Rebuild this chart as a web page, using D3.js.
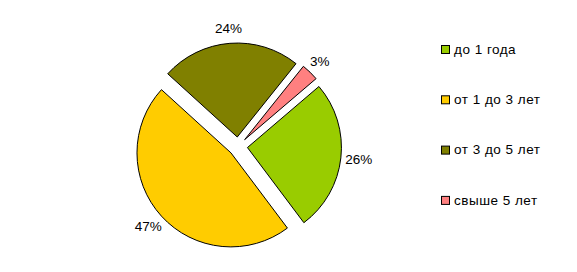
<!DOCTYPE html>
<html>
<head>
<meta charset="utf-8">
<script src="https://cdn.jsdelivr.net/npm/d3@7"></script>
<style>
  body { margin: 0; background: #fff; }
  text { font-family: "Liberation Sans", Arial, sans-serif; font-size: 13.5px; fill: #000; }
  .legend text { letter-spacing: 0.5px; }
</style>
</head>
<body>
<div id="chart"></div>
<script>
// data
var categories = ["до 1 года", "от 1 до 3 лет", "от 3 до 5 лет", "свыше 5 лет"];
var values = [26, 47, 24, 3];
var labels = ["26%", "47%", "24%", "3%"];
var colors = ["#99CC00", "#FFCC00", "#808000", "#FF8080"];

var width = 577, height = 272;
var cx = 238, cy = 146.5, radius = 94, explode = 9.5;

var svg = d3.select("#chart")
  .append("svg")
  .attr("width", width)
  .attr("height", height);

var pie = d3.pie()
  .sort(null)
  .startAngle(49.5 * Math.PI / 180)
  .endAngle((49.5 + 360) * Math.PI / 180)
  .value(function(d) { return d; });

var arc = d3.arc().innerRadius(0).outerRadius(radius);

var arcs = pie(values);

var g = svg.append("g").attr("transform", "translate(" + cx + "," + cy + ")");

// slices, pulled out along their middle angle
g.selectAll("path")
  .data(arcs)
  .enter()
  .append("path")
  .attr("d", arc)
  .attr("fill", function(d, i) { return colors[i]; })
  .attr("stroke", "#000")
  .attr("stroke-width", 1)
  .attr("transform", function(d) {
    var a = (d.startAngle + d.endAngle) / 2;
    return "translate(" + (Math.sin(a) * explode) + "," + (-Math.cos(a) * explode) + ")";
  });

// percent labels outside the slices
g.selectAll("text.pct")
  .data(arcs)
  .enter()
  .append("text")
  .attr("class", "pct")
  .attr("text-anchor", "middle")
  .attr("dy", "0.35em")
  .attr("x", function(d, i) {
    var a = (d.startAngle + d.endAngle) / 2;
    var w = labels[i].length * 4;
    return Math.sin(a) * (radius + explode + 6) + Math.sin(a) * w;
  })
  .attr("y", function(d) {
    var a = (d.startAngle + d.endAngle) / 2;
    return -Math.cos(a) * (radius + explode + 8) - Math.cos(a) * 7;
  })
  .text(function(d, i) { return labels[i]; });

// legend
var legend = svg.append("g").attr("class", "legend").attr("transform", "translate(441,49)");
var row = legend.selectAll("g")
  .data(categories)
  .enter()
  .append("g")
  .attr("transform", function(d, i) { return "translate(0," + (i * 50.3) + ")"; });

row.append("rect")
  .attr("x", 0.5)
  .attr("y", -3.5)
  .attr("width", 8)
  .attr("height", 8)
  .attr("fill", function(d, i) { return colors[i]; })
  .attr("stroke", "#000")
  .attr("stroke-width", 1);

row.append("text")
  .attr("x", 13)
  .attr("y", 0)
  .attr("dy", "0.35em")
  .text(function(d) { return d; });
</script>
</body>
</html>
